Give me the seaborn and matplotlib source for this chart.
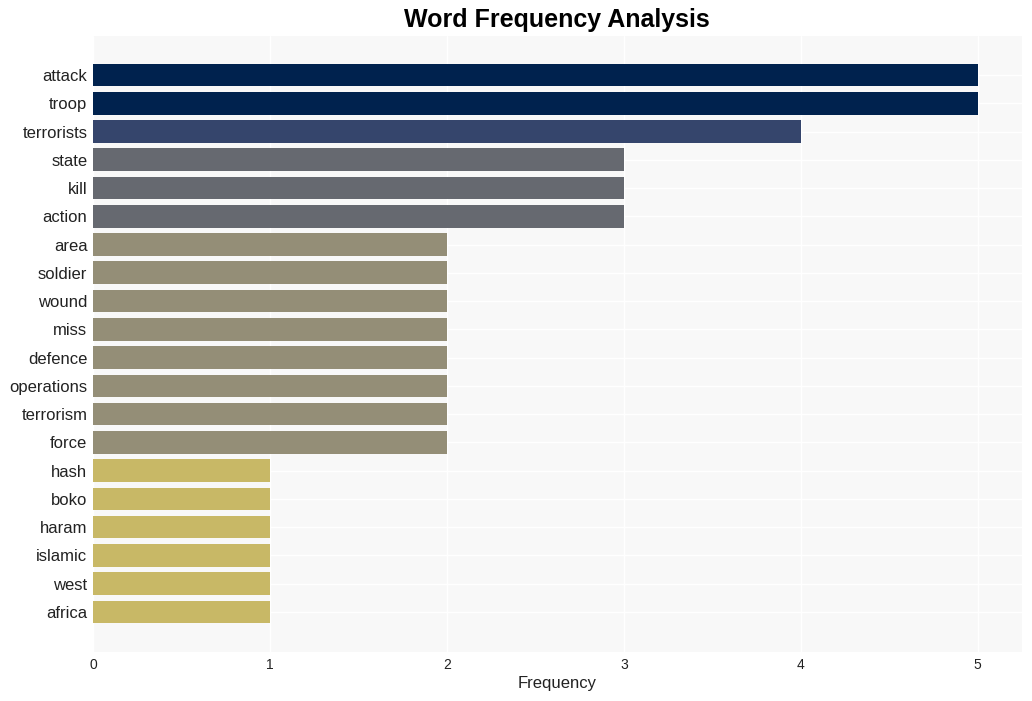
import matplotlib
matplotlib.use("Agg")
import matplotlib.pyplot as plt
import seaborn as sns
import pandas as pd

words = ["attack", "troop", "terrorists", "state", "kill", "action", "area", "soldier",
         "wound", "miss", "defence", "operations", "terrorism", "force", "hash", "boko",
         "haram", "islamic", "west", "africa"]
freqs = [5, 5, 4, 3, 3, 3, 2, 2, 2, 2, 2, 2, 2, 2, 1, 1, 1, 1, 1, 1]
level_colors = {5: "#00224e", 4: "#35456c", 3: "#666970", 2: "#948e77", 1: "#c8b866"}

df = pd.DataFrame({"word": words, "freq": freqs})
palette = [level_colors[f] for f in freqs]

sns.set_theme(style="whitegrid")
plt.rcParams["font.family"] = ["Liberation Sans", "DejaVu Sans"]

fig = plt.figure(figsize=(10.32, 7.01), dpi=100)
ax = fig.add_axes([93 / 1032, 49 / 701, 929 / 1032, 616 / 701])
ax.set_facecolor("#f8f8f8")

sns.barplot(data=df, x="freq", y="word", hue="word", palette=palette, legend=False,
            width=0.8, ax=ax, saturation=1, linewidth=0)

ax.set_xlim(0, 5.25)
ax.set_ylim(len(words) - 1 + 1.42, -1.38)
ax.grid(True, color="white", linewidth=1)
ax.set_axisbelow(True)
for s in ax.spines.values():
    s.set_visible(False)
ax.set_xlabel("Frequency", fontsize=12, color="#222222", labelpad=3)
ax.set_ylabel("")
ax.tick_params(axis="both", length=0, labelsize=12, labelcolor="#222222")
ax.tick_params(axis="x", pad=4, labelsize=10)
ax.tick_params(axis="y", pad=4)
fig.suptitle("Word Frequency Analysis", fontsize=18, fontweight="bold", y=0.988, x=0.54,
             color="black")

fig.savefig("out.png", dpi=100)
